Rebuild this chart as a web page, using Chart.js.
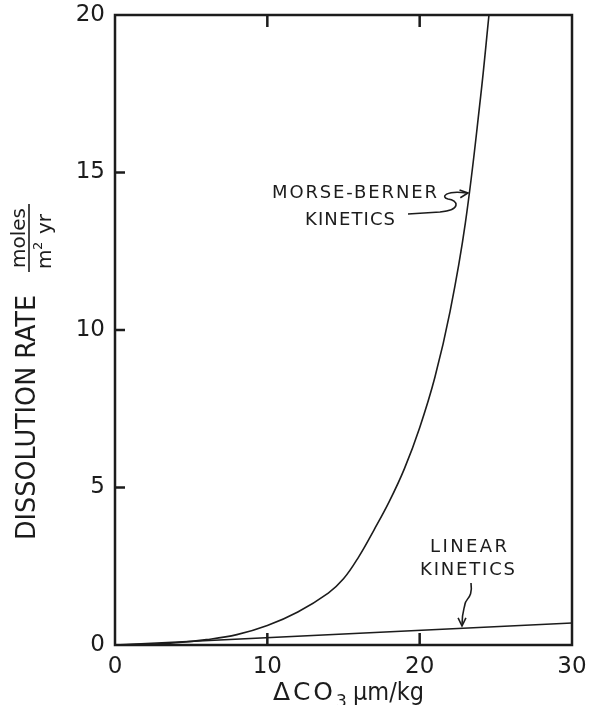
<!DOCTYPE html>
<html>
<head>
<meta charset="utf-8">
<script src="https://cdn.jsdelivr.net/npm/chart.js@4"></script>
<style>
  html, body { margin: 0; padding: 0; background: #fff; }
  #wrap { width: 590px; height: 705px; }
</style>
</head>
<body>
<div id="wrap"><canvas id="rateChart" width="590" height="705"></canvas></div>
<script>
// Morse-Berner curve
const dco3 = [0, 2, 4, 6, 8, 10, 12, 14, 15, 16, 17, 18, 19, 20, 21, 22, 23, 24, 24.55];
const morseBerner = [0, 0.02, 0.07, 0.17, 0.33, 0.62, 1.05, 1.65, 2.1, 2.8, 3.65, 4.55, 5.6, 6.9, 8.5, 10.6, 13.4, 17.4, 20];

// Linear kinetics
const linearX = [0, 30];
const linearRate = [0, 0.7];

const xTicks = [0, 10, 20, 30];
const yTicks = [0, 5, 10, 15, 20];

const INK = '#1c1c1c';
const FONT = '"DejaVu Sans", sans-serif';

// draw text fitted to a width: letter spacing if short, squeeze if long
function fitText(ctx, text, x, y, width) {
  ctx.letterSpacing = '0px';
  const w = ctx.measureText(text).width;
  if (w < width) {
    ctx.letterSpacing = ((width - w) / (text.length - 1)) + 'px';
    ctx.fillText(text, x, y);
    ctx.letterSpacing = '0px';
  } else {
    ctx.save();
    ctx.translate(x, y);
    ctx.scale(width / w, 1);
    ctx.fillText(text, 0, 0);
    ctx.restore();
  }
}

function arrowHead(ctx, x, y, ang) {
  ctx.beginPath();
  ctx.moveTo(x - 9 * Math.cos(ang - 0.45), y - 9 * Math.sin(ang - 0.45));
  ctx.lineTo(x, y);
  ctx.lineTo(x - 9 * Math.cos(ang + 0.45), y - 9 * Math.sin(ang + 0.45));
  ctx.stroke();
}

const framePlugin = {
  id: 'frame',
  afterDraw(chart) {
    const ctx = chart.ctx;
    const a = chart.chartArea;
    const xs = chart.scales.x, ys = chart.scales.y;
    ctx.save();
    ctx.strokeStyle = INK;
    ctx.lineWidth = 2.5;
    ctx.strokeRect(a.left, a.top, a.right - a.left, a.bottom - a.top);

    // inward tick marks
    ctx.beginPath();
    [5, 10, 15].forEach(v => {
      const py = ys.getPixelForValue(v);
      ctx.moveTo(a.left, py); ctx.lineTo(a.left + 10, py);
    });
    [10, 20].forEach(v => {
      const px = xs.getPixelForValue(v);
      ctx.moveTo(px, a.bottom); ctx.lineTo(px, a.bottom - 12);
      ctx.moveTo(px, a.top); ctx.lineTo(px, a.top + 12);
    });
    ctx.stroke();

    ctx.fillStyle = INK;
    ctx.textBaseline = 'alphabetic';
    ctx.textAlign = 'left';

    // y axis title, rotated
    ctx.save();
    ctx.translate(35, 540);
    ctx.rotate(-Math.PI / 2);
    ctx.font = '26px ' + FONT;
    fitText(ctx, 'DISSOLUTION RATE', 0, 0, 245);
    ctx.restore();

    // units fraction
    ctx.save();
    ctx.translate(29, 238);
    ctx.rotate(-Math.PI / 2);
    ctx.font = '20px ' + FONT;
    ctx.textAlign = 'center';
    ctx.fillText('moles', 0, -4);
    ctx.lineWidth = 1.6;
    ctx.beginPath();
    ctx.moveTo(-34, 0); ctx.lineTo(34, 0);
    ctx.stroke();
    ctx.textAlign = 'left';
    ctx.fillText('m', -31, 22);
    ctx.font = '13px ' + FONT;
    ctx.fillText('2', -12, 13);
    ctx.font = '20px ' + FONT;
    ctx.fillText('yr', 4, 22);
    ctx.restore();

    // x axis title
    ctx.font = '25px ' + FONT;
    fitText(ctx, 'ΔCO', 273, 700, 60);
    ctx.font = '17px ' + FONT;
    ctx.fillText('3', 336, 707);
    ctx.font = '24px ' + FONT;
    fitText(ctx, 'µm/kg', 353, 700, 71);

    // annotations
    ctx.font = '18px ' + FONT;
    fitText(ctx, 'MORSE-BERNER', 272, 198, 165);
    fitText(ctx, 'KINETICS', 305, 225, 90);
    fitText(ctx, 'LINEAR', 430, 552, 77);
    fitText(ctx, 'KINETICS', 420, 575, 95);

    ctx.lineWidth = 1.6;
    ctx.beginPath();
    ctx.moveTo(408, 214);
    ctx.lineTo(440, 212);
    ctx.bezierCurveTo(462, 210, 458, 200, 448, 199);
    ctx.bezierCurveTo(440, 197, 446, 190, 467, 193);
    ctx.stroke();
    arrowHead(ctx, 468, 193, -0.1);

    ctx.beginPath();
    ctx.moveTo(471, 583);
    ctx.bezierCurveTo(473, 598, 466, 598, 465, 604);
    ctx.bezierCurveTo(464, 610, 462, 612, 462, 625);
    ctx.stroke();
    arrowHead(ctx, 462, 626, Math.PI / 2);
    ctx.restore();
  }
};

const ctx = document.getElementById('rateChart').getContext('2d');
new Chart(ctx, {
  type: 'line',
  data: {
    datasets: [
      {
        label: 'Morse-Berner kinetics',
        data: dco3.map((x, i) => ({ x: x, y: morseBerner[i] })),
        borderColor: INK,
        borderWidth: 1.6,
        pointRadius: 0,
        tension: 0.4,
        fill: false,
      },
      {
        label: 'Linear kinetics',
        data: linearX.map((x, i) => ({ x: x, y: linearRate[i] })),
        borderColor: INK,
        borderWidth: 1.6,
        pointRadius: 0,
        fill: false,
      },
    ],
  },
  options: {
    responsive: false,
    animation: false,
    devicePixelRatio: 1,
    layout: { padding: { top: 15, right: 18, left: 0, bottom: 0 } },
    plugins: {
      legend: { display: false },
      tooltip: { enabled: false },
    },
    scales: {
      x: {
        type: 'linear',
        min: 0,
        max: 30,
        afterBuildTicks: s => { s.ticks = xTicks.map(v => ({ value: v })); },
        afterFit: s => { s.height = 60; s.paddingLeft = 0; s.paddingRight = 0; },
        grid: { display: false, drawTicks: false },
        border: { display: false },
        ticks: { color: INK, padding: 8, font: { family: FONT, size: 23 } },
      },
      y: {
        type: 'linear',
        min: 0,
        max: 20,
        afterBuildTicks: s => { s.ticks = yTicks.map(v => ({ value: v })); },
        afterFit: s => { s.width = 115; s.paddingTop = 0; s.paddingBottom = 0; },
        grid: { display: false, drawTicks: false },
        border: { display: false },
        ticks: { color: INK, padding: 10, font: { family: FONT, size: 23 } },
      },
    },
  },
  plugins: [framePlugin],
});
</script>
</body>
</html>
